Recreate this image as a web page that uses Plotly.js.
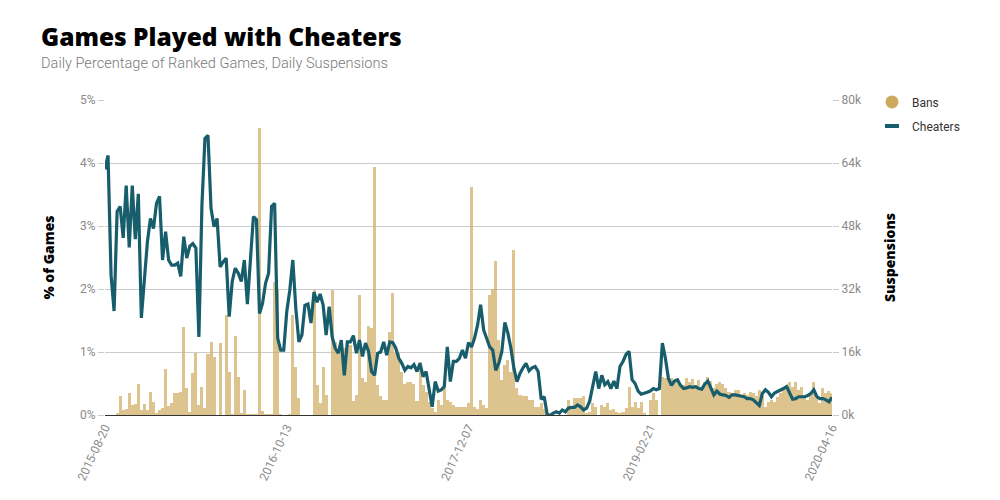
<!DOCTYPE html>
<html>
<head>
<meta charset="utf-8">
<script src="https://cdn.plot.ly/plotly-3.0.1.min.js"></script>
<style>
  html, body { margin: 0; padding: 0; background: #fff; }
  #chart { width: 1000px; height: 500px; }
</style>
</head>
<body>
<div id="chart"></div>
<script>
// ---- Data ----
const tickDates = ['2015-08-20', '2016-10-13', '2017-12-07', '2019-02-21', '2020-04-16'];

// % of ranked games played with cheaters (left axis)
const cheaters = [
  3.9, 4.12, 2.22, 1.65, 3.23, 3.31, 2.81, 3.64, 2.66, 3.64,
  2.79, 3.51, 1.54, 2.22, 2.75, 3.12, 2.96, 3.36, 3.47, 2.46,
  2.91, 2.46, 2.38, 2.38, 2.41, 2.2, 2.83, 2.49, 2.68, 2.72,
  2.65, 1.24, 3.33, 4.39, 4.44, 3.28, 2.99, 3.12, 2.35, 2.43,
  2.49, 1.56, 2.12, 2.33, 2.25, 2.12, 2.46, 1.76, 2.54, 3.15,
  3.1, 1.61, 1.77, 2.09, 2.25, 3.31, 3.36, 1.22, 1.03, 1.03,
  1.64, 1.98, 2.46, 1.69, 1.16, 1.27, 1.74, 1.76, 1.46, 1.95,
  1.79, 1.92, 1.75, 1.27, 1.72, 1.24, 1.06, 0.98, 1.19, 0.63,
  1.16, 1.16, 1.26, 0.98, 1.19, 0.93, 1.14, 1.01, 0.69, 0.63,
  0.98, 1.0, 1.16, 0.95, 1.16, 1.15, 1.06, 0.9, 0.82, 0.71,
  0.77, 0.75, 0.8, 0.69, 0.82, 0.61, 0.69, 0.42, 0.13, 0.53,
  0.38, 0.4, 0.45, 1.08, 0.53, 0.85, 0.85, 0.9, 1.03, 0.9,
  1.15, 1.08, 1.22, 1.43, 1.75, 1.35, 1.22, 1.08, 1.03, 0.71,
  0.82, 1.01, 1.47, 1.3, 1.06, 0.74, 0.53, 0.66, 0.75, 0.82,
  0.7, 0.75, 0.77, 0.69, 0.25, 0.29, 0, 0, 0.03, 0.05,
  0.03, 0.08, 0.05, 0.11, 0.12, 0.12, 0.16, 0.13, 0.08, 0.11,
  0.22, 0.45, 0.69, 0.42, 0.63, 0.48, 0.53, 0.42, 0.54, 0.42,
  0.77, 0.85, 0.96, 1.01, 0.56, 0.5, 0.38, 0.33, 0.34, 0.36,
  0.38, 0.42, 0.4, 0.42, 1.14, 0.9, 0.58, 0.47, 0.54, 0.56,
  0.47, 0.42, 0.43, 0.45, 0.44, 0.45, 0.42, 0.41, 0.49, 0.54,
  0.43, 0.32, 0.38, 0.33, 0.32, 0.31, 0.28, 0.32, 0.32, 0.31,
  0.29, 0.29, 0.26, 0.26, 0.24, 0.2, 0.15, 0.34, 0.4, 0.36,
  0.29, 0.35, 0.37, 0.4, 0.42, 0.45, 0.34, 0.25, 0.26, 0.29,
  0.29, 0.29, 0.31, 0.34, 0.4, 0.29, 0.26, 0.26, 0.24, 0.21,
  0.28
];

// Suspensions (bans), thousands (right axis)
const bans = [
  0, 0, 0, 0, 0.5, 4.7, 1.3, 1.5, 5.5, 2.5,
  2.9, 8.0, 1.3, 2.7, 1.3, 5.8, 3.4, 0.4, 1.3, 1.9,
  11.7, 2.4, 3.0, 5.5, 5.5, 5.9, 22.4, 6.8, 0.8, 10.6,
  15.8, 2.5, 7.0, 1.7, 15.4, 18.5, 14.8, 0, 18.2, 0,
  25.4, 11.0, 0.3, 20.0, 9.7, 0.4, 6.3, 0.2, 0.2, 0.2,
  0.2, 72.8, 1.0, 0.2, 0.2, 0.2, 33.9, 31.7, 0.2, 0,
  0, 0.2, 25.4, 12.3, 4.2, 0, 0, 0, 0, 31.7,
  7.6, 3.0, 12.3, 5.1, 0, 31.7, 18.5, 16.5, 18.0, 17.0,
  18.6, 17.8, 3.6, 5.2, 30.6, 9.5, 8.5, 22.7, 22.2, 63.0,
  7.6, 4.7, 3.8, 3.8, 21.2, 30.9, 15.7, 15.7, 11.0, 7.8,
  8.5, 8.5, 8.0, 3.6, 13.5, 7.6, 5.9, 3.4, 1.9, 0.8,
  3.8, 2.5, 6.8, 3.8, 3.4, 2.5, 2.1, 2.1, 2.1, 2.1,
  3.0, 58.0, 2.1, 1.5, 3.8, 2.5, 1.7, 30.6, 32.0, 39.0,
  19.0, 8.9, 12.7, 14.0, 10.8, 42.0, 6.8, 5.0, 4.7, 4.7,
  3.8, 3.8, 2.1, 2.1, 3.0, 1.5, 0, 0, 0, 0,
  0, 0, 0, 3.8, 2.1, 4.4, 4.4, 4.4, 4.7, 0.4,
  0.8, 3.0, 2.1, 0, 2.5, 2.1, 3.0, 1.3, 1.5, 0.8,
  0.4, 0.8, 1.7, 7.2, 2.1, 3.4, 1.7, 3.4, 0.4, 0,
  3.8, 5.5, 3.8, 0, 9.7, 9.3, 8.9, 9.3, 8.9, 8.5,
  8.0, 7.6, 9.5, 8.5, 9.1, 7.6, 8.9, 6.8, 8.3, 9.7,
  8.6, 6.8, 7.8, 8.5, 8.0, 6.8, 5.9, 5.5, 6.3, 6.3,
  5.2, 5.5, 5.2, 5.9, 5.5, 4.7, 6.3, 4.7, 2.1, 3.4,
  3.8, 3.4, 4.5, 5.5, 7.2, 6.9, 8.5, 7.2, 8.5, 6.3,
  7.2, 4.2, 3.8, 5.1, 8.5, 4.2, 3.0, 6.8, 5.5, 6.0,
  5.5
];

// Category labels (dates) between the labelled tick dates
function buildDates(ticks, perSegment) {
  const out = [];
  const day = 86400000;
  for (let s = 0; s < ticks.length - 1; s++) {
    const a = Date.parse(ticks[s] + 'T00:00:00Z');
    const b = Date.parse(ticks[s + 1] + 'T00:00:00Z');
    const span = Math.round((b - a) / day);
    for (let k = 0; k < perSegment; k++) {
      const d = new Date(a + Math.round(span * k / perSegment) * day);
      out.push(d.toISOString().slice(0, 10));
    }
  }
  out.push(ticks[ticks.length - 1]);
  return out;
}
const dates = buildDates(tickDates, 60);

// ---- Styles ----
const tanColor = '#cfa95e';
const tealColor = '#175d6c';
const tickFont = { family: 'Roboto, sans-serif', size: 12, color: '#8a8a8a', weight: 400 };
const axisTitleFont = { family: '"Open Sans", sans-serif', size: 14, color: '#000', weight: 800 };

const traces = [
  {
    type: 'bar', x: dates, y: bans, yaxis: 'y', name: 'Bans',
    marker: { color: tanColor, opacity: 0.7, line: { width: 0 } },
    showlegend: false, hoverinfo: 'skip'
  },
  {
    type: 'scatter', mode: 'lines', x: dates, y: cheaters, yaxis: 'y2', name: 'Cheaters',
    line: { color: tealColor, width: 3.2 },
    showlegend: false, hoverinfo: 'skip'
  },
  {
    type: 'scatter', mode: 'markers', x: [null], y: [null], yaxis: 'y2', name: 'Bans',
    legendgroup: 'a',
    marker: { symbol: 'circle', size: 13, color: tanColor }
  },
  {
    type: 'scatter', mode: 'markers', x: [null], y: [null], yaxis: 'y2', name: 'Cheaters',
    legendgroup: 'b',
    marker: { symbol: 'line-ew', size: 10, color: tealColor, line: { width: 4, color: tealColor } }
  }
];

const layout = {
  width: 1000, height: 500,
  margin: { l: 105, r: 168, t: 100, b: 85, pad: 0 },
  paper_bgcolor: '#fff', plot_bgcolor: '#fff',
  bargap: 0,
  showlegend: true,
  hovermode: false,
  title: {
    text: 'Games Played with Cheaters',
    font: { family: '"Open Sans", sans-serif', size: 24.5, color: '#000', weight: 800 },
    xref: 'container', x: 0.041, xanchor: 'left',
    yref: 'container', y: 0.942, yanchor: 'top'
  },
  annotations: [
    {
      text: 'Daily Percentage of Ranked Games, Daily Suspensions',
      xref: 'paper', yref: 'paper',
      x: -0.091, xanchor: 'left', y: 1.116, yanchor: 'middle',
      showarrow: false,
      font: { family: 'Roboto, sans-serif', size: 14.6, color: '#7a7a7a', weight: 300 }
    }
  ],
  legend: {
    x: 1.055, xanchor: 'left', y: 1.04, yanchor: 'top',
    font: { family: 'Roboto, sans-serif', size: 12, color: '#333' },
    traceorder: 'grouped', tracegroupgap: 5,
    bgcolor: 'rgba(0,0,0,0)'
  },
  xaxis: {
    type: 'category', categoryorder: 'array', categoryarray: dates,
    range: [0, dates.length - 1],
    tickvals: tickDates, ticktext: tickDates, tickangle: -65,
    tickfont: tickFont,
    showgrid: false, zeroline: false,
    showline: true, linecolor: '#333', linewidth: 1,
    ticks: '', fixedrange: true
  },
  yaxis: {
    side: 'right', range: [0, 80], tick0: 0, dtick: 16, ticksuffix: 'k',
    tickfont: tickFont,
    showgrid: true, gridcolor: '#cccccc', gridwidth: 1,
    zeroline: false, showline: false,
    ticks: 'outside', ticklen: 6, tickcolor: '#cccccc',
    title: { text: 'Suspensions', font: axisTitleFont, standoff: 24 },
    fixedrange: true
  },
  yaxis2: {
    overlaying: 'y', side: 'left', range: [0, 5], tick0: 0, dtick: 1, ticksuffix: '%',
    tickfont: tickFont,
    showgrid: false, zeroline: false, showline: false,
    ticks: 'outside', ticklen: 6, tickcolor: '#cccccc',
    title: { text: '% of Games', font: axisTitleFont, standoff: 22 },
    fixedrange: true
  }
};

Plotly.newPlot('chart', traces, layout, { staticPlot: true, displayModeBar: false });
</script>
</body>
</html>
